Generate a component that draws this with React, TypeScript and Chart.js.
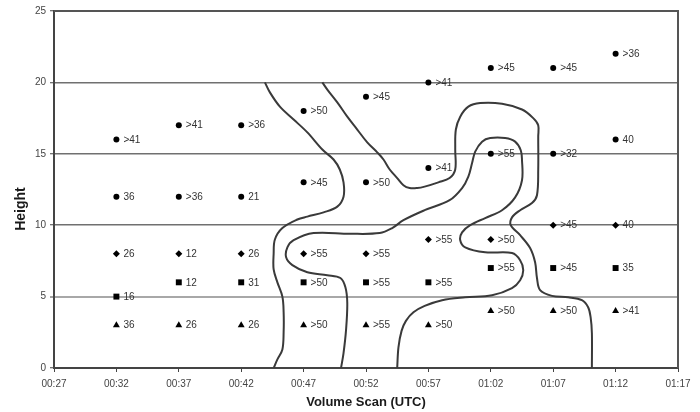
import React, { useEffect, useRef } from "react";
import { Chart, registerables } from "chart.js";

Chart.register(...registerables);

// ---- axis ticks ----
const xTickValues = [27, 32, 37, 42, 47, 52, 57, 62, 67, 72, 77];
const xTickLabels = ["00:27", "00:32", "00:37", "00:42", "00:47", "00:52", "00:57", "01:02", "01:07", "01:12", "01:17"];
const yTickValues = [0, 5, 10, 15, 20, 25];

// ---- volume scans (minutes after 00:00) ----
const scanTimes = [32, 37, 42, 47, 52, 57, 62, 67, 72];

// ---- series ----
const circleTopHeights = [16, 17, 17, 18, 19, 20, 21, 21, 22];
const circleTopLabels = [">41", ">41", ">36", ">50", ">45", ">41", ">45", ">45", ">36"];
const circleMidHeights = [12, 12, 12, 13, 13, 14, 15, 15, 16];
const circleMidLabels = ["36", ">36", "21", ">45", ">50", ">41", ">55", ">32", "40"];
const diamondHeights = [8, 8, 8, 8, 8, 9, 9, 10, 10];
const diamondLabels = ["26", "12", "26", ">55", ">55", ">55", ">50", ">45", "40"];
const squareHeights = [5, 6, 6, 6, 6, 6, 7, 7, 7];
const squareLabels = ["16", "12", "31", ">50", ">55", ">55", ">55", ">45", "35"];
const triangleHeights = [3, 3, 3, 3, 3, 3, 4, 4, 4];
const triangleLabels = ["36", "26", "26", ">50", ">55", ">50", ">50", ">50", ">41"];

// ---- hand-drawn contours: [minutes, height] ----
const contourLeft: [number, number][] = [
  [43.9, 20], [44.3, 19.3], [45.1, 18.3], [46.2, 17.4], [47.3, 16.5], [48.5, 15.3], [49.4, 14.6],
  [49.9, 13.9], [50.2, 13.0], [50.2, 12.0], [49.7, 11.3], [48.6, 10.9], [47.3, 10.6], [46.5, 10.4],
  [45.3, 9.8], [44.7, 9.0], [44.6, 8.0], [44.6, 6.9], [44.9, 6.0], [45.3, 5.0], [45.4, 3.9],
  [45.4, 2.5], [45.3, 1.3], [44.9, 0.6], [44.6, 0],
];
const contourOuter: [number, number][] = [
  [48.5, 20], [48.9, 19.5], [49.7, 18.6], [50.5, 17.6], [51.3, 16.7], [52.1, 15.8], [52.9, 15.1],
  [53.4, 14.6], [53.9, 13.9], [54.5, 13.3], [55.0, 12.8], [55.5, 12.6], [56.1, 12.6], [56.7, 12.7],
  [57.8, 13.0], [58.7, 13.3], [59.15, 13.9], [59.15, 15.3], [59.2, 16.7], [59.55, 17.6], [60.2, 18.3],
  [61.15, 18.55], [62.9, 18.5], [64.5, 18.1], [65.4, 17.5], [65.8, 17.0], [65.8, 16.2], [65.8, 13.9],
  [65.7, 12.1], [65.3, 11.55], [64.35, 11.05], [63.7, 10.55], [63.6, 10.0], [64.35, 9.3], [65.15, 8.4],
  [65.55, 7.4], [65.7, 6.3], [65.95, 5.45], [66.9, 5.05], [68.2, 4.95], [69.3, 4.75], [69.8, 4.25],
  [70.0, 3.55], [70.1, 2.45], [70.1, 0],
];
const contourInner: [number, number][] = [
  [50.0, 0], [50.2, 1.05], [50.4, 2.65], [50.5, 4.55], [50.35, 5.65], [49.95, 6.3], [48.9, 6.5],
  [47.3, 6.7], [46.1, 7.2], [45.6, 7.75], [45.7, 8.45], [46.2, 8.95], [47.8, 9.45], [50.7, 9.4],
  [53.1, 9.45], [54.1, 9.8], [55.0, 10.35], [56.7, 11.05], [58.7, 11.75], [59.7, 12.6], [60.2, 13.4],
  [60.5, 14.35], [60.75, 15.15], [61.3, 15.85], [61.95, 16.1], [63.15, 16.1], [63.95, 15.85],
  [64.4, 15.25], [64.5, 14.55], [64.5, 13.15], [63.95, 11.95], [62.9, 11.05], [61.55, 10.5],
  [60.35, 10.0], [59.7, 9.5], [59.55, 8.95], [59.95, 8.45], [61.55, 8.1], [63.7, 8.05], [64.35, 7.55],
  [64.6, 6.85], [64.35, 6.15], [63.7, 5.6], [62.1, 5.1], [59.95, 4.95], [58.1, 4.75], [56.7, 4.35],
  [55.8, 3.9], [55.2, 3.3], [54.85, 2.6], [54.6, 1.45], [54.5, 0],
];

const FONT = "'Liberation Sans', Arial, Helvetica, sans-serif";

const toPoints = (ys: number[]) => scanTimes.map((t, i) => ({ x: t, y: ys[i] }));
const toLine = (pts: [number, number][]) => pts.map(([x, y]) => ({ x, y }));

const markerDataset = (label: string, ys: number[], labels: string[], style: string, radius: number) => ({
  label,
  data: toPoints(ys),
  pointLabels: labels,
  pointStyle: style,
  pointRadius: radius,
  pointBackgroundColor: "#000",
  pointBorderColor: "#000",
  pointBorderWidth: 0,
  showLine: false,
});

const contourDataset = (label: string, pts: [number, number][]) => ({
  label,
  data: toLine(pts),
  showLine: true,
  pointRadius: 0,
  borderColor: "#3a3a3a",
  borderWidth: 2,
  tension: 0.35,
  fill: false,
});

const pointLabelPlugin = {
  id: "pointLabels",
  afterDatasetsDraw(chart: any) {
    const ctx = chart.ctx;
    ctx.save();
    ctx.font = `10px ${FONT}`;
    ctx.fillStyle = "#333";
    ctx.textBaseline = "middle";
    ctx.textAlign = "left";
    chart.data.datasets.forEach((ds: any, i: number) => {
      if (!ds.pointLabels) return;
      chart.getDatasetMeta(i).data.forEach((el: any, j: number) => {
        ctx.fillText(ds.pointLabels[j], el.x + 7, el.y + 0.5);
      });
    });
    ctx.restore();
  },
};

const framePlugin = {
  id: "frame",
  afterDatasetsDraw(chart: any) {
    const { ctx, chartArea: a } = chart;
    ctx.save();
    ctx.strokeStyle = "#555";
    ctx.lineWidth = 2;
    ctx.beginPath();
    ctx.moveTo(a.left, a.top);
    ctx.lineTo(a.right, a.top);
    ctx.lineTo(a.right, a.bottom);
    ctx.stroke();
    ctx.restore();
  },
  afterDraw(chart: any) {
    const ctx = chart.ctx;
    ctx.save();
    ctx.translate(21, 209);
    ctx.rotate(-Math.PI / 2);
    ctx.font = `bold 14px ${FONT}`;
    ctx.fillStyle = "#1a1a1a";
    ctx.textAlign = "center";
    ctx.textBaseline = "middle";
    ctx.fillText("Height", 0, 0);
    ctx.restore();
  },
};

export default function App() {
  const canvasRef = useRef<HTMLCanvasElement | null>(null);

  useEffect(() => {
    if (!canvasRef.current) return;
    const chart = new Chart(canvasRef.current, {
      type: "scatter",
      data: {
        datasets: [
          markerDataset("Upper", circleTopHeights, circleTopLabels, "circle", 3),
          markerDataset("Middle", circleMidHeights, circleMidLabels, "circle", 3),
          markerDataset("Diamond", diamondHeights, diamondLabels, "rectRot", 3.5),
          markerDataset("Square", squareHeights, squareLabels, "rect", 4.2),
          markerDataset("Triangle", triangleHeights, triangleLabels, "triangle", 4),
          contourDataset("Contour A", contourLeft),
          contourDataset("Contour B", contourOuter),
          contourDataset("Contour C", contourInner),
        ] as any,
      },
      options: {
        animation: false,
        responsive: false,
        events: [],
        layout: { padding: { left: 0, right: 22, top: 11, bottom: 0 } },
        plugins: { legend: { display: false }, tooltip: { enabled: false } },
        scales: {
          x: {
            type: "linear",
            min: xTickValues[0],
            max: xTickValues[xTickValues.length - 1],
            afterFit: (s: any) => { s.height = 44; },
            afterBuildTicks: (s: any) => { s.ticks = xTickValues.map((v) => ({ value: v })); },
            ticks: {
              callback: (v: any) => xTickLabels[xTickValues.indexOf(Number(v))] ?? "",
              font: { family: FONT, size: 10 },
              color: "#444",
              padding: 6,
              maxRotation: 0,
              autoSkip: false,
            },
            grid: { drawOnChartArea: false, drawTicks: true, tickLength: 4, tickColor: "#444", tickWidth: 1 },
            border: { display: true, color: "#444", width: 2 },
            title: {
              display: true,
              text: "Volume Scan (UTC)",
              font: { family: FONT, size: 13, weight: "bold" },
              color: "#1a1a1a",
              padding: { top: 0, bottom: 2 },
            },
          },
          y: {
            type: "linear",
            min: yTickValues[0],
            max: yTickValues[yTickValues.length - 1],
            afterFit: (s: any) => { s.width = 54; },
            afterBuildTicks: (s: any) => { s.ticks = yTickValues.map((v) => ({ value: v })); },
            ticks: {
              font: { family: FONT, size: 10 },
              color: "#444",
              padding: 4,
            },
            grid: {
              drawTicks: true,
              tickLength: 4,
              tickColor: "#444",
              tickWidth: 1,
              color: (c: any) => {
                const v = c.tick?.value;
                if (v === 0 || v === 25) return "rgba(0,0,0,0)";
                return v === 5 ? "#a8a8a8" : "#707070";
              },
              lineWidth: (c: any) => (c.tick?.value === 5 ? 2 : 1.5),
            },
            border: { display: true, color: "#444", width: 2 },
          },
        },
      } as any,
      plugins: [pointLabelPlugin, framePlugin],
    });
    return () => chart.destroy();
  }, []);

  return (
    <div style={{ position: "absolute", left: 0, top: 0, width: 700, height: 412, background: "#fff" }}>
      <canvas ref={canvasRef} width={700} height={412} style={{ display: "block" }} />
    </div>
  );
}
